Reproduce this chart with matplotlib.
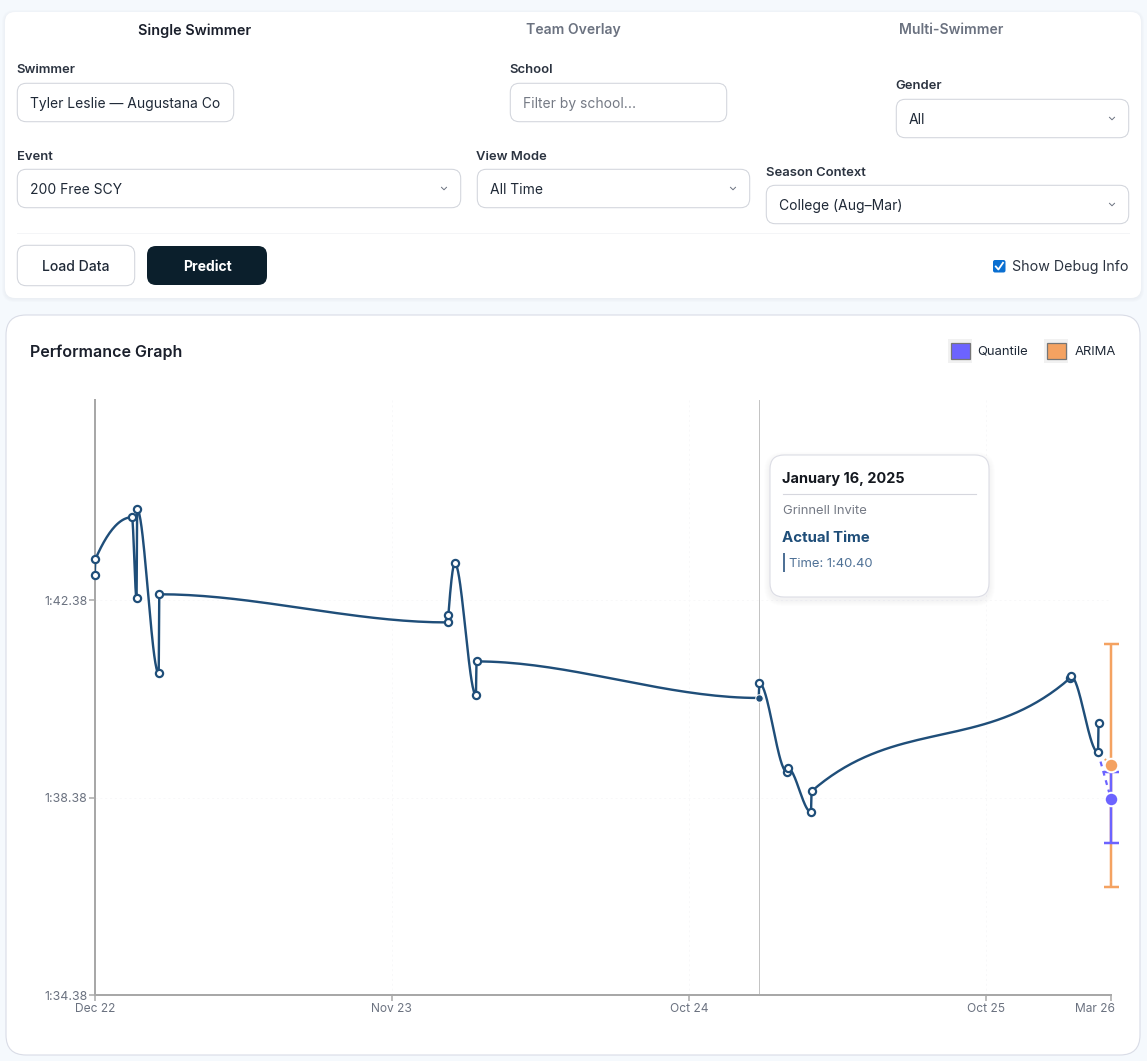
import numpy as np
import matplotlib
matplotlib.use("Agg")
import matplotlib.pyplot as plt
from matplotlib.patches import FancyBboxPatch, Rectangle
from matplotlib.transforms import ScaledTranslation

plt.rcParams['font.family'] = ['Inter', 'Noto Sans', 'DejaVu Sans']

# ---------- data ----------
x_tick_labels = ["Dec 22", "Nov 23", "Oct 24", "Oct 25", "Mar 26"]
x_tick_pos = [0, 1, 2, 3, 3.421]
y_ticks = [94.38, 98.38, 102.38]

actual_x = [0.000, 0.002, 0.125, 0.1405, 0.1425, 0.2150, 0.2170, 1.1880, 1.1900, 1.2120,
            1.2830, 1.2850, 2.2350, 2.2370, 2.3300, 2.3330, 2.4110, 2.4130, 3.2830, 3.2860,
            3.3770, 3.3790]
actual_t = [102.89, 103.21, 104.06, 102.42, 104.22, 100.90, 102.50, 101.93, 102.08, 103.13,
            100.46, 101.14, 100.40, 100.70, 98.90, 98.98, 98.09, 98.51, 100.80, 100.84,
            99.30, 99.89]
active_index = 12

pred_x = 3.421
quantile_mean, quantile_low, quantile_high = 98.35, 97.47, 98.90
arima_mean, arima_low, arima_high = 99.04, 96.57, 101.49

series_names = ["Quantile", "ARIMA"]
LINE = "#1f4e79"
QC = "#6c63ff"
AC = "#f4a261"
AXC = "#a8a8a8"
TICKC = "#6b7280"


def px(v):
    return v * 0.72


def fmt_time(s):
    m = int(s // 60)
    return f"{m}:{s - m * 60:05.2f}"


def monotone_curve(x, y, n=40):
    """d3.curveMonotoneX sampled as a polyline."""
    x = np.asarray(x, float)
    y = np.asarray(y, float)
    h = np.diff(x)
    s = np.diff(y) / h
    t = np.zeros(len(x))
    for i in range(1, len(x) - 1):
        p = (s[i - 1] * h[i] + s[i] * h[i - 1]) / (h[i - 1] + h[i])
        t[i] = (np.sign(s[i - 1]) + np.sign(s[i])) * min(abs(s[i - 1]), abs(s[i]), 0.5 * abs(p))
    t[0] = (3 * s[0] - t[1]) / 2
    t[-1] = (3 * s[-1] - t[-2]) / 2
    X, Y = [], []
    u = np.linspace(0, 1, n)
    for i in range(len(x) - 1):
        d = h[i] / 3
        p0, p1, p2, p3 = y[i], y[i] + d * t[i], y[i + 1] - d * t[i + 1], y[i + 1]
        q0, q1, q2, q3 = x[i], x[i] + d, x[i + 1] - d, x[i + 1]
        b = [(1 - u) ** 3, 3 * u * (1 - u) ** 2, 3 * u ** 2 * (1 - u), u ** 3]
        X.extend(b[0] * q0 + b[1] * q1 + b[2] * q2 + b[3] * q3)
        Y.extend(b[0] * p0 + b[1] * p1 + b[2] * p2 + b[3] * p3)
    return np.array(X), np.array(Y)


W, H = 1147, 1061
fig = plt.figure(figsize=(W / 100, H / 100), dpi=100, facecolor="#f5f9fd")

# ---------- page furniture, in pixel coordinates ----------
bg = fig.add_axes([0, 0, 1, 1], zorder=0)
bg.set_xlim(0, W)
bg.set_ylim(H, 0)
bg.axis("off")


def box(ax, x0, y0, x1, y1, r, fc="white", ec="none", lw=1.0, z=1, alpha=None):
    p = FancyBboxPatch((x0 + r, y0 + r), x1 - x0 - 2 * r, y1 - y0 - 2 * r,
                       boxstyle=f"round,pad={r},rounding_size={r}",
                       fc=fc, ec=ec, lw=lw, zorder=z, alpha=alpha)
    ax.add_patch(p)
    return p


def txt(ax, x, y, s, size=14, color="#1f2937", weight="normal", ha="left", z=5):
    return ax.text(x, y, s, fontsize=px(size), color=color, fontweight=weight,
                   ha=ha, va="center_baseline", zorder=z)


# cards
for i in range(4):
    box(bg, 5 - i, 12 - i + 1, 1141 + i, 298 + i + 1, 10 + i, fc="#dfe3ea", alpha=0.12, z=1)
box(bg, 5, 12, 1141, 298, 10, z=2)
box(bg, 6, 315, 1140, 1055, 20, ec="#d9dce6", lw=0.8, z=2)

# tabs
txt(bg, 194.5, 29.5, "Single Swimmer", 14.5, "#1a1f2b", "semibold", "center")
txt(bg, 573, 28.5, "Team Overlay", 14, "#6b7280", "semibold", "center")
txt(bg, 951.5, 28.5, "Multi-Swimmer", 14, "#6b7280", "semibold", "center")

# fields: label, label x, label y, box, value, colour, has chevron
fields = [
    ("Swimmer", 17, 68.5, (17, 83, 234, 122), "Tyler Leslie — Augustana Co", "#1f2937", False),
    ("School", 510, 68.5, (510, 83, 727, 122), "Filter by school...", "#757a85", False),
    ("Gender", 896, 84.5, (896, 99, 1129, 138), "All", "#1f2937", True),
    ("Event", 17, 155.5, (17, 169, 461, 208), "200 Free SCY", "#1f2937", True),
    ("View Mode", 477, 155.5, (477, 169, 750, 208), "All Time", "#1f2937", True),
    ("Season Context", 766, 171.5, (766, 185, 1129, 224), "College (Aug–Mar)", "#1f2937", True),
]
for label, lx, ly, (a, b, c, d), val, col, chev in fields:
    txt(bg, lx - 0.5, ly, label, 13, "#2b3340", "semibold")
    box(bg, a + 0.3, b + 0.3, c - 0.3, d - 0.3, 9, ec="#d2d5dc", lw=0.75, z=3)
    txt(bg, a + 13, (b + d) / 2, val, 13.9, col)
    if chev:
        cx, cy = c - 17, (b + d) / 2
        bg.plot([cx - 2.5, cx, cx + 2.5], [cy - 1.2, cy + 1.3, cy - 1.2], color="#6b7280", lw=0.7, zorder=5)

bg.plot([17, 1129], [233, 233], color="#f4f5f7", lw=0.7, zorder=3)

# buttons
box(bg, 17.3, 245.3, 134.7, 285.7, 9, ec="#d2d5dc", lw=0.75, z=3)
txt(bg, 76, 265.5, "Load Data", 14, "#1f2937", "medium", "center")
box(bg, 147, 246, 267, 285, 9, fc="#0b1f2c", z=3)
txt(bg, 207, 265.5, "Predict", 14, "white", "bold", "center")

# checkbox
box(bg, 993, 260, 1005.5, 272.5, 2, fc="#0a6fd1", z=3)
bg.plot([995.8, 998.4, 1003], [266.5, 269.5, 262.8], color="white", lw=1.3, zorder=5)
txt(bg, 1012, 265.5, "Show Debug Info", 14.2, "#2b3340")

# graph header and legend
txt(bg, 30, 350.5, "Performance Graph", 16, "#1a1f2b", "semibold")
for name, col, ox, tx in zip(series_names, [QC, AC], [948, 1044], [977.5, 1075]):
    bg.add_patch(Rectangle((ox, 339), 24, 24, fc="#f1f1f1", ec="none", zorder=3))
    bg.add_patch(Rectangle((ox + 2.5, 343), 19, 16, fc=col, ec="#767676", lw=0.9, zorder=4))
    txt(bg, tx, 350.3, name, 13, "#1f2937")

# ---------- chart ----------
left, right, top, bottom = 94.8, 1111, 400, 995.2
ax = fig.add_axes([left / W, 1 - bottom / H, (right - left) / W, (bottom - top) / H], zorder=1)
ax.patch.set_alpha(0)
ax.set_xlim(0, 3.421)
ax.set_ylim(94.38, 94.38 + (bottom - top) / 49.375)

for sp in ("top", "right"):
    ax.spines[sp].set_visible(False)
for sp in ("left", "bottom"):
    ax.spines[sp].set_color(AXC)
    ax.spines[sp].set_linewidth(px(2))

ax.set_xticks(x_tick_pos)
ax.set_xticklabels(x_tick_labels, fontsize=px(12), color=TICKC)
ax.set_yticks(y_ticks)
ax.set_yticklabels([fmt_time(v) for v in y_ticks], fontsize=px(12.4), color=TICKC)
ax.tick_params(axis="both", length=px(6), width=px(1.5), color=AXC, pad=px(2))
ax.tick_params(axis="y", pad=px(1.5))
ax.grid(True, color="#f8f8f9", lw=0.7, ls=(0, (2, 3)), zorder=0)
last = ax.get_xticklabels()[-1]
last.set_ha("right")
last.set_transform(last.get_transform() + ScaledTranslation(4 / 100, 0, fig.dpi_scale_trans))

# hover cursor
ax.axvline(actual_x[active_index], color="#c4c4c4", lw=px(1), zorder=1)

# predictions: error bars
for mean, lo, hi, col, z in [(arima_mean, arima_low, arima_high, AC, 2),
                             (quantile_mean, quantile_low, quantile_high, QC, 3)]:
    ax.errorbar([pred_x], [mean], yerr=[[mean - lo], [hi - mean]], color=col, lw=px(2.5),
                capsize=px(7.5), capthick=px(2.5), zorder=z, clip_on=False)

# actual line
cx, cy = monotone_curve(actual_x, actual_t)
ax.plot(cx, cy, color=LINE, lw=px(2.4), zorder=4, solid_joinstyle="round")

# dashed links from the latest swim to the predictions
ax.plot([actual_x[-2], pred_x], [actual_t[-2], quantile_mean], color=QC, lw=px(2.2),
        ls=(0, (2.2, 2.2)), zorder=3.5, clip_on=False)
ax.plot([actual_x[-2], pred_x], [actual_t[-2], arima_mean], color=AC, lw=px(2.2),
        ls=(0, (2.2, 2.2)), zorder=3.4, clip_on=False)

# markers
other = [i for i in range(len(actual_x)) if i != active_index]
ax.plot(np.array(actual_x)[other], np.array(actual_t)[other], ls="none", marker="o",
        ms=px(7.2), mfc="white", mec=LINE, mew=px(2.2), zorder=5, clip_on=False)
ax.plot([actual_x[active_index]], [actual_t[active_index]], ls="none", marker="o",
        ms=px(7.5), mfc=LINE, mec="white", mew=px(1), zorder=6)
ax.plot([pred_x], [arima_mean], ls="none", marker="o", ms=px(13.5), mfc=AC, mec="white",
        mew=px(2), zorder=6, clip_on=False)
ax.plot([pred_x], [quantile_mean], ls="none", marker="o", ms=px(13.5), mfc=QC, mec="white",
        mew=px(2), zorder=6, clip_on=False)

# ---------- tooltip ----------
ov = fig.add_axes([0, 0, 1, 1], zorder=2)
ov.set_xlim(0, W)
ov.set_ylim(H, 0)
ov.axis("off")
ov.patch.set_alpha(0)
for i in range(6, 0, -1):
    box(ov, 770 - i, 455 - i + 3, 989 + i, 597 + i + 3, 14 + i, fc="#8a8fa0", alpha=0.012, z=1)
box(ov, 770, 455, 989, 597, 14, ec="#dcdde5", lw=0.8, z=2)
txt(ov, 782.5, 478, "January 16, 2025", 14.5, "#14181f", "bold")
ov.plot([783, 976], [493.5, 493.5], color="#d6d7de", lw=0.8, zorder=3)
txt(ov, 783, 509.5, "Grinnell Invite", 13, "#757a85")
txt(ov, 782.5, 536.5, "Actual Time", 15, LINE, "bold")
ov.add_patch(Rectangle((782.5, 553), 2, 19, fc="#4f7196", ec="none", zorder=3))
txt(ov, 789, 562.5, "Time: " + fmt_time(actual_t[active_index]), 13, "#4f7196")

fig.savefig("out.png", dpi=100, facecolor=fig.get_facecolor())
